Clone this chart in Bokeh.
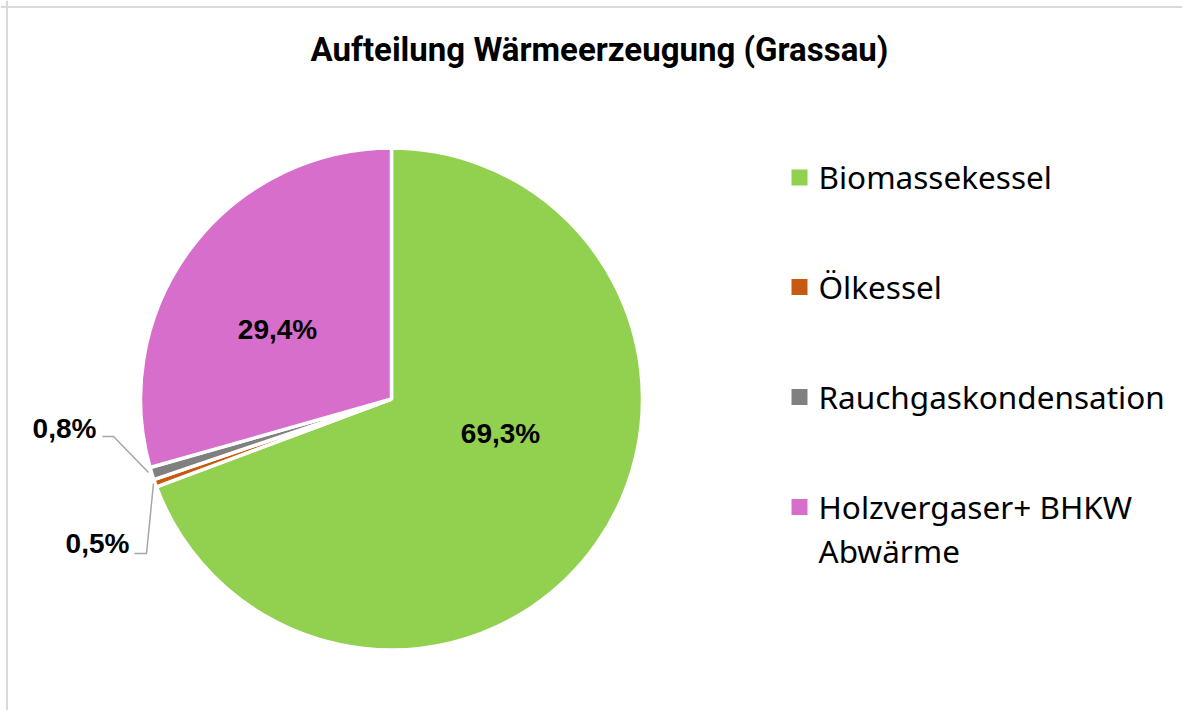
from math import pi
from bokeh.plotting import figure
from bokeh.models import Range1d, Span
from bokeh.core.properties import value
from bokeh.embed import file_html
from bokeh.resources import INLINE

# ---- data ----
categories = ["Biomassekessel", "Ölkessel", "Rauchgaskondensation", "Holzvergaser+ BHKW Abwärme"]
legend_texts = ["Biomassekessel", "Ölkessel", "Rauchgaskondensation", "Holzvergaser+ BHKW\nAbwärme"]
shares = [69.3, 0.5, 0.8, 29.4]
labels = ["69,3%", "0,5%", "0,8%", "29,4%"]
colors = ["#92D050", "#C55A11", "#808080", "#D86ECC"]
title = "Aufteilung Wärmeerzeugung (Grassau)"

W, H = 1182, 710

def X(ix):
    return ix

def Y(iy):
    return H - iy

p = figure(width=W, height=H, output_backend="svg", toolbar_location=None,
           x_range=Range1d(0, W), y_range=Range1d(0, H), min_border=0)
p.axis.visible = False
p.grid.visible = False
p.outline_line_color = None
p.background_fill_color = "white"
p.border_fill_color = "white"

# frame (left/top visible in reference)
p.add_layout(Span(location=X(6.5), dimension="height", line_color="#D9D9D9", line_width=2))
p.add_layout(Span(location=Y(6.5), dimension="width", line_color="#D9D9D9", line_width=2))

# ---- pie ----
cx, cy, r = X(391), Y(398.5), 251
total = sum(shares)
starts, ends = [], []
cum = 0.0
for s in shares:
    starts.append(pi / 2 - cum / total * 2 * pi)
    cum += s
    ends.append(pi / 2 - cum / total * 2 * pi)

p.wedge(x=[cx] * len(shares), y=[cy] * len(shares), radius=r,
        start_angle=starts, end_angle=ends, direction="clock",
        fill_color=colors, line_color="white", line_width=3.5)

# ---- data labels ----
label_pos = [(500, 432.5), (97, 543), (64, 428), (277, 329)]
p.text(x=[X(a) for a, b in label_pos], y=[Y(b) for a, b in label_pos], text=labels,
       text_font=value("Liberation Sans"), text_font_style="bold",
       text_font_size="28px", text_align="center", text_baseline="middle",
       text_color="black")

# leader lines
p.line(x=[X(102), X(113), X(148)], y=[Y(436), Y(436), Y(472)], line_color="#A6A6A6", line_width=1.5)
p.line(x=[X(134), X(146), X(153)], y=[Y(553), Y(553), Y(483)], line_color="#A6A6A6", line_width=1.5)

# ---- title ----
p.text(x=[X(599)], y=[Y(48.5)], text=[title], text_font=value("Roboto"),
       text_font_style="bold", text_font_size="33px", text_align="center",
       text_baseline="middle", text_color="black")

# ---- legend ----
row_y = [177, 286.5, 396.5, 506.5]
p.scatter(x=[X(799)] * 4, y=[Y(v) for v in row_y], marker="square", size=16,
          fill_color=colors, line_color=None)
lx, ly, lt = [], [], []
for t, v in zip(legend_texts, row_y):
    for k, line in enumerate(t.split("\n")):
        lx.append(X(818))
        ly.append(Y(v - 1 + 44 * k))
        lt.append(line)
p.text(x=lx, y=ly, text=lt,
       text_font=value("Noto Sans"), text_font_size="31.5px", text_align="left",
       text_baseline="alphabetic", text_color="black")

open("out.html", "w").write(file_html(p, INLINE))
